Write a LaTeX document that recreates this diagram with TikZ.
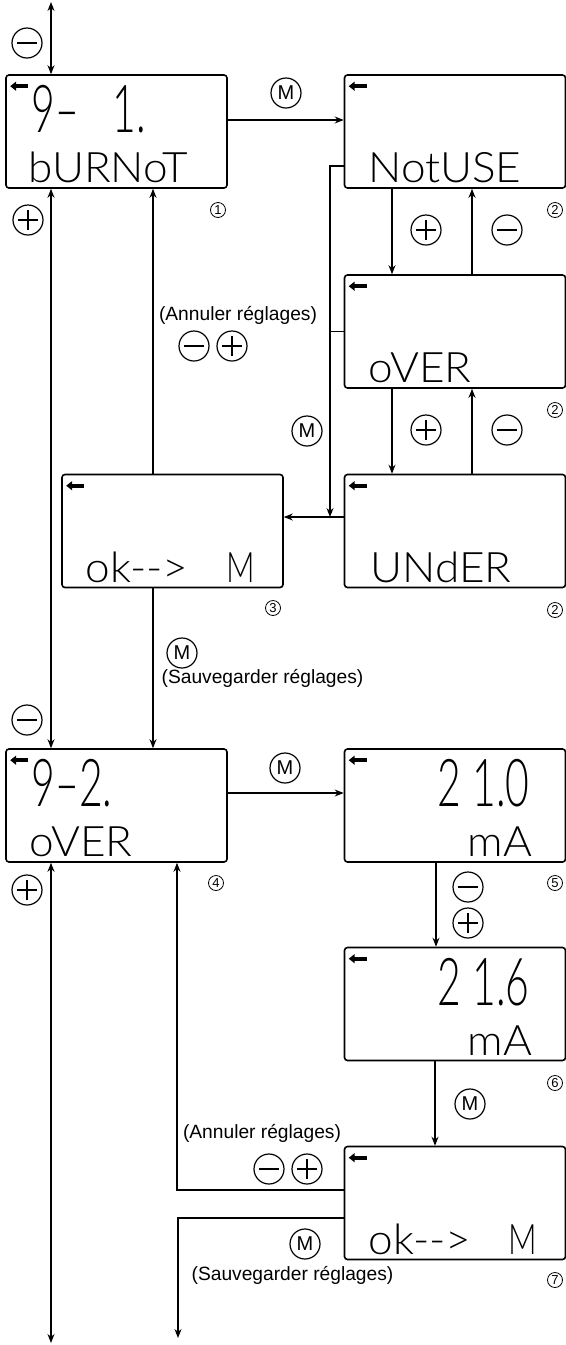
\documentclass[tikz,border=0pt]{standalone}
\usepackage{fontspec}
\setmainfont{Liberation Sans}
\newfontfamily\lcdfont{Lato Light}[FakeStretch=1.05]
\newfontfamily\lcdbigfont{Lato Light}[FakeStretch=0.62]
\newfontfamily\lcdnarrowfont{Lato Light}[FakeStretch=0.75]
\usepackage{tikz}
\usetikzlibrary{arrows.meta}

\begin{document}
\begin{tikzpicture}[x=0.5pt,y=-0.5pt,line width=0.6pt,>={Stealth[length=4.5pt,width=3.5pt]},
  lcd/.style={draw,line width=0.8pt,rounded corners=1.5pt,minimum width=110.5pt,minimum height=56.5pt,inner sep=0},
  lcdbig/.style={font=\lcdbigfont\fontsize{33}{33}\selectfont,inner sep=0},
  lcdtxt/.style={font=\lcdfont\fontsize{21}{21}\selectfont,inner sep=0},
  lcdnarrow/.style={font=\lcdnarrowfont\fontsize{21}{21}\selectfont,inner sep=0},
  backicon/.style={line width=2pt,-{Triangle[length=3pt,width=4.5pt]}},
  btn/.style={circle,draw,line width=0.6pt,minimum size=15pt,inner sep=0},
  plusbtn/.style={btn,path picture={\draw ([xshift=2.5pt]path picture bounding box.west) -- ([xshift=-2.5pt]path picture bounding box.east) ([yshift=-2.5pt]path picture bounding box.north) -- ([yshift=2.5pt]path picture bounding box.south);}},
  minusbtn/.style={btn,path picture={\draw ([xshift=2.5pt]path picture bounding box.west) -- ([xshift=-2.5pt]path picture bounding box.east);}},
  mbtn/.style={btn,font=\fontsize{10}{10}\selectfont},
  num/.style={circle,draw,line width=0.4pt,minimum size=7.5pt,inner sep=0,font=\fontsize{6.5}{6.5}\selectfont},
  lbl/.style={font=\fontsize{9.6}{10}\selectfont,inner sep=0}]
  \useasboundingbox (0,0) rectangle (566,1345);

  \node[lcd] (lcd1) at (116.5,131.5) {};
  \node[lcd] (lcd2) at (455,131.5) {};
  \node[lcd] (lcd2b) at (455,331.5) {};
  \node[lcd] (lcd2c) at (455,531) {};
  \node[lcd] (lcd3) at (172.5,531) {};
  \node[lcd] (lcd4) at (116.5,805.5) {};
  \node[lcd] (lcd5) at (455,805.5) {};
  \node[lcd] (lcd6) at (455,1004) {};
  \node[lcd] (lcd7) at (455,1203) {};
  \foreach \b in {lcd1,lcd2,lcd2b,lcd2c,lcd3,lcd4,lcd5,lcd6,lcd7}
    \draw[backicon] ([xshift=11.5pt,yshift=-6pt]\b.north west) -- ++(-9pt,0);

  \node[lcdbig,anchor=base west] (d1) at (31,132) {9–~~~1.};
  \node[lcdtxt,anchor=base west] (s1) at (28,182) {bURNoT};
  \node[lcdtxt,anchor=base west] (s2) at (368,182) {NotUSE};
  \node[lcdtxt,anchor=base west] (s2b) at (368,382) {oVER};
  \node[lcdtxt,anchor=base west] (s2c) at (370,582) {UNdER};
  \node[lcdtxt,anchor=base west] (s3) at (85,582) {ok-{}->};
  \node[lcdnarrow,anchor=base west] (s3m) at (226,582) {M};
  \node[lcdbig,anchor=base west] (d4) at (31,806) {9–2.};
  \node[lcdtxt,anchor=base west] (s4) at (29,856) {oVER};
  \node[lcdbig,anchor=base east] (d5) at (530,806) {2~1.0};
  \node[lcdtxt,anchor=base east] (s5) at (533,856) {mA};
  \node[lcdbig,anchor=base east] (d6) at (530,1005) {2~1.6};
  \node[lcdtxt,anchor=base east] (s6) at (533,1055) {mA};
  \node[lcdtxt,anchor=base west] (s7) at (368,1254) {ok-{}->};
  \node[lcdnarrow,anchor=base west] (s7m) at (508,1254) {M};

  \coordinate (top) at (51,2);
  \coordinate (bot) at (51,1343);
  \draw[<->] (top) -- (top |- lcd1.north);
  \draw[<->] (top |- lcd1.south) -- (top |- lcd4.north);
  \draw[<->] (top |- lcd4.south) -- (bot);
  \node[minusbtn] (n1) at (27,43) {};
  \node[plusbtn] (p1) at (28,220) {};
  \node[minusbtn] (n4) at (27,720) {};
  \node[plusbtn] (p4) at (27,890) {};

  \draw[->] ([yshift=5.75pt]lcd1.east) -- ([yshift=5.75pt]lcd2.west);
  \node[mbtn] (m12) at (286,93) {M};
  \draw[->] ([xshift=-31.5pt]lcd2.south) -- ([xshift=-31.5pt]lcd2b.north);
  \draw[->] ([xshift=8.5pt]lcd2b.north) -- ([xshift=8.5pt]lcd2.south);
  \node[plusbtn] (p2) at (426,230) {};
  \node[minusbtn] (n2) at (507,230) {};
  \draw[->] ([xshift=-31.5pt]lcd2b.south) -- ([xshift=-31.5pt]lcd2c.north);
  \draw[->] ([xshift=8.5pt]lcd2c.north) -- ([xshift=8.5pt]lcd2b.south);
  \node[plusbtn] (p2b) at (426,430) {};
  \node[minusbtn] (n2b) at (507,430) {};

  \coordinate (jn) at (330,517);
  \draw[->] ([yshift=-17.25pt]lcd2.west) -| (jn);
  \draw (lcd2b.west) -- (lcd2b.west -| jn);
  \draw[->] ([yshift=7pt]lcd2c.west) -- ([yshift=7pt]lcd3.east);
  \node[mbtn] (m3) at (307,431) {M};

  \draw[->] ([xshift=-9.75pt]lcd3.north) -- ([xshift=-9.75pt]lcd3.north |- lcd1.south);
  \node[lbl] (cancel1) at (238,315) {(Annuler réglages)};
  \node[minusbtn] (cn1) at (194,346) {};
  \node[plusbtn] (cp1) at (232,346) {};
  \draw[->] ([xshift=-9.75pt]lcd3.south) -- ([xshift=-9.75pt]lcd3.south |- lcd4.north);
  \node[mbtn] (m34) at (182,653) {M};
  \node[lbl] (save1) at (262.5,678) {(Sauvegarder réglages)};

  \draw[->] ([yshift=6.25pt]lcd4.east) -- ([yshift=6.25pt]lcd5.west);
  \node[mbtn] (m45) at (285,768) {M};
  \draw[->] ([xshift=-9.5pt]lcd5.south) -- ([xshift=-9.5pt]lcd6.north);
  \node[minusbtn] (n56) at (468,887) {};
  \node[plusbtn] (p56) at (468,923) {};
  \draw[->] ([xshift=-10pt]lcd6.south) -- ([xshift=-10pt]lcd7.north);
  \node[mbtn] (m67) at (470,1104) {M};

  \coordinate (savend) at (178,1338);
  \draw[->] ([yshift=6.5pt]lcd7.west) -| ([xshift=30.25pt]lcd4.south);
  \draw[->] ([yshift=-7.5pt]lcd7.west) -| (savend);
  \node[lbl] (cancel2) at (262,1133) {(Annuler réglages)};
  \node[minusbtn] (cn2) at (269,1169) {};
  \node[plusbtn] (cp2) at (307,1169) {};
  \node[mbtn] (m7) at (305,1244) {M};
  \node[lbl] (save2) at (292.5,1275) {(Sauvegarder réglages)};

  \node[num] (c1) at (218,210) {1};
  \node[num] (c2) at (555,210) {2};
  \node[num] (c2b) at (555,410) {2};
  \node[num] (c2c) at (555,610) {2};
  \node[num] (c3) at (273,608) {3};
  \node[num] (c4) at (216,883) {4};
  \node[num] (c5) at (555,883) {5};
  \node[num] (c6) at (555,1083) {6};
  \node[num] (c7) at (555,1280) {7};
\end{tikzpicture}
\end{document}
